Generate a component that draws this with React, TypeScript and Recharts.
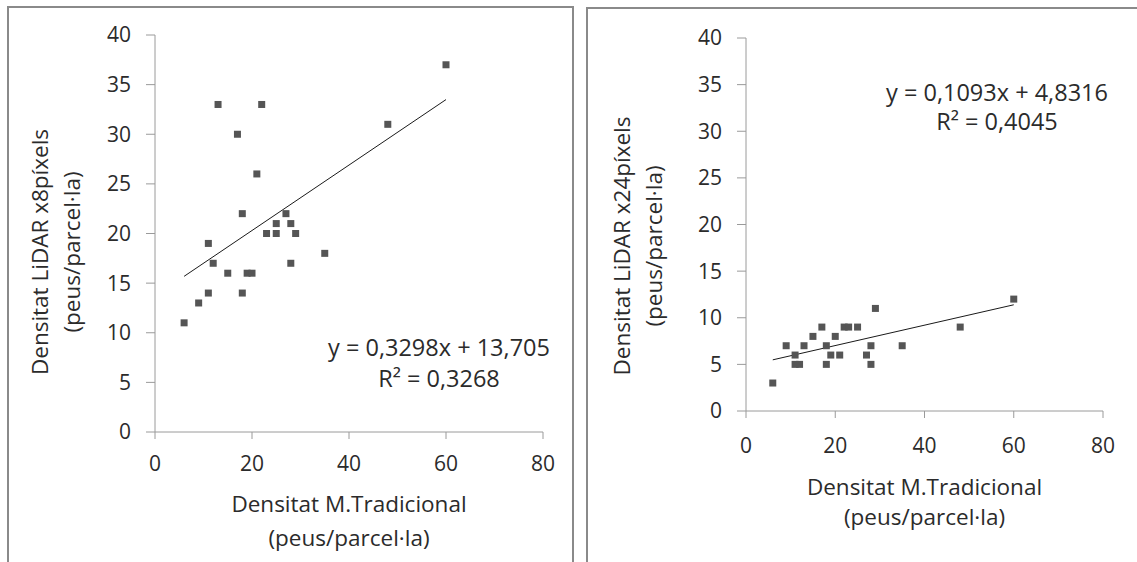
import React from 'react'
import { ScatterChart, Scatter, XAxis, YAxis, ReferenceLine } from 'recharts'

// Densitat M.Tradicional (x) vs densitat LiDAR (y), peus/parcel·la
const xTrad8 = [6, 9, 11, 11, 12, 13, 15, 17, 18, 18, 19, 20, 21, 22, 23, 25, 25, 27, 28, 28, 29, 35, 48, 60]
const yLidar8 = [11, 13, 14, 19, 17, 33, 16, 30, 22, 14, 16, 16, 26, 33, 20, 21, 20, 22, 21, 17, 20, 18, 31, 37]

const xTrad24 = [6, 9, 11, 11, 12, 13, 15, 17, 18, 18, 19, 20, 21, 22, 23, 25, 27, 28, 28, 29, 35, 48, 60]
const yLidar24 = [3, 7, 6, 5, 5, 7, 8, 9, 7, 5, 6, 8, 6, 9, 9, 9, 6, 7, 5, 11, 7, 9, 12]

// trend line coefficients as printed on the charts
const trend8 = { slope: 0.3298, intercept: 13.705, label: 'y = 0,3298x + 13,705', r2: 'R² = 0,3268' }
const trend24 = { slope: 0.1093, intercept: 4.8316, label: 'y = 0,1093x + 4,8316', r2: 'R² = 0,4045' }

const xTicks = [0, 20, 40, 60, 80]
const yTicks = [0, 5, 10, 15, 20, 25, 30, 35, 40]

const FONT = '"Open Sans", "Noto Sans", sans-serif'
const TEXT = '#2b2b2b'
const AXIS = '#9a9a9a'
const MARKER = '#555555'

const toPoints = (xs: number[], ys: number[]) => xs.map((x, i) => ({ x, y: ys[i] }))

const Square = ({ cx, cy }: { cx?: number; cy?: number }) =>
  cx == null || cy == null ? null : <rect x={cx - 3.5} y={cy - 3.5} width={7} height={7} fill={MARKER} />

interface PanelProps {
  xs: number[]
  ys: number[]
  trend: { slope: number; intercept: number; label: string; r2: string }
  yTitle: string
  width: number
  margin: { top: number; right: number; bottom: number; left: number }
  yAxisWidth: number
  xAxisHeight: number
  yTick: number
  xTick: number
  xTitleY: number
  xTitleGap: number
  yTitleX: number
  yTitleY: number
  eqX: number
  eqY: number
  eqGap: number
}

function Panel(p: PanelProps) {
  const data = toPoints(p.xs, p.ys)
  const x0 = Math.min(...p.xs)
  const x1 = Math.max(...p.xs)
  const seg = [
    { x: x0, y: p.trend.slope * x0 + p.trend.intercept },
    { x: x1, y: p.trend.slope * x1 + p.trend.intercept },
  ]
  return (
    <ScatterChart width={p.width} height={562} margin={p.margin}>
      <XAxis
        type="number"
        dataKey="x"
        domain={[0, 80]}
        ticks={xTicks}
        height={p.xAxisHeight}
        stroke={AXIS}
        tickSize={7}
        tickMargin={p.xTick}
        tick={{ fill: TEXT, fontSize: 21, fontFamily: FONT }}
        label={{
          content: (props: any) => {
            const vb = props.viewBox
            const cx = vb.x + vb.width / 2
            return (
              <text textAnchor="middle" fill={TEXT} fontSize={22.5} fontFamily={FONT}>
                <tspan x={cx} y={vb.y + p.xTitleY}>Densitat M.Tradicional</tspan>
                <tspan x={cx} y={vb.y + p.xTitleY + p.xTitleGap}>(peus/parcel·la)</tspan>
              </text>
            )
          },
        }}
      />
      <YAxis
        type="number"
        dataKey="y"
        domain={[0, 40]}
        ticks={yTicks}
        width={p.yAxisWidth}
        stroke={AXIS}
        tickSize={9}
        tickMargin={p.yTick}
        tick={{ fill: TEXT, fontSize: 21, fontFamily: FONT }}
        label={{
          content: () => (
            <text
              transform={`translate(${p.yTitleX},${p.yTitleY}) rotate(-90)`}
              textAnchor="middle"
              fill={TEXT}
              fontSize={22.5}
              fontFamily={FONT}
            >
              <tspan x={0} y={0}>{p.yTitle}</tspan>
              <tspan x={0} y={32}>(peus/parcel·la)</tspan>
            </text>
          ),
        }}
      />
      <ReferenceLine segment={seg} stroke="#1a1a1a" strokeWidth={1} ifOverflow="visible" />
      <Scatter data={data} shape={<Square />} isAnimationActive={false} />
      <text textAnchor="middle" fill={TEXT} fontSize={23.5} fontFamily={FONT}>
        <tspan x={p.eqX} y={p.eqY}>{p.trend.label}</tspan>
        <tspan x={p.eqX} y={p.eqY + p.eqGap}>{p.trend.r2}</tspan>
      </text>
    </ScatterChart>
  )
}

export default function App() {
  return (
    <div
      style={{
        position: 'fixed',
        left: 0,
        top: 0,
        width: 1137,
        height: 562,
        overflow: 'hidden',
        background: '#fff',
      }}
    >
      <div
        style={{
          position: 'absolute',
          left: 7,
          top: 6,
          width: 567,
          height: 600,
          border: '2px solid #8a8a8a',
          boxSizing: 'border-box',
        }}
      />
      <div
        style={{
          position: 'absolute',
          left: 586,
          top: 7,
          width: 600,
          height: 600,
          border: '2px solid #8a8a8a',
          boxSizing: 'border-box',
        }}
      />
      <div style={{ position: 'absolute', left: 0, top: 0 }}>
        <Panel
          xs={xTrad8}
          ys={yLidar8}
          trend={trend8}
          yTitle="Densitat LiDAR x8píxels"
          width={575}
          margin={{ top: 35, right: 32, bottom: 0, left: 0 }}
          yAxisWidth={155}
          xAxisHeight={130}
          xTick={17}
          yTick={15}
          xTitleY={80}
          xTitleGap={34}
          yTitleX={48}
          yTitleY={252}
          eqX={439}
          eqY={356}
          eqGap={31}
        />
      </div>
      <div style={{ position: 'absolute', left: 588, top: 0 }}>
        <Panel
          xs={xTrad24}
          ys={yLidar24}
          trend={trend24}
          yTitle="Densitat LiDAR x24píxels"
          width={549}
          margin={{ top: 38, right: 34, bottom: 0, left: 0 }}
          yAxisWidth={158}
          xAxisHeight={151}
          xTick={20}
          yTick={15}
          xTitleY={84}
          xTitleGap={30}
          yTitleX={42}
          yTitleY={246}
          eqX={409}
          eqY={101}
          eqGap={29}
        />
      </div>
    </div>
  )
}
